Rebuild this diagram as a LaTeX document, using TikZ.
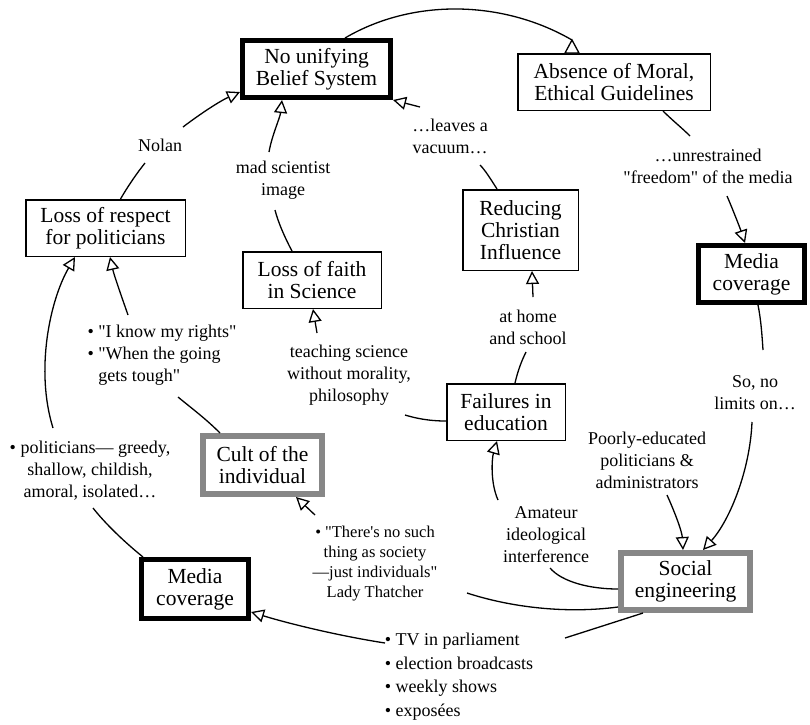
\documentclass[tikz,border=0pt]{standalone}
\usepackage{fontspec}
\setmainfont{Liberation Serif}
\newfontfamily\plainserif{Liberation Serif}
\usetikzlibrary{arrows.meta,calc}
\definecolor{bordergray}{RGB}{135,135,135}
\tikzset{
 box/.style={draw, line width=1.5pt, align=center, font=\plainserif\fontsize{21.5}{22}\selectfont, inner sep=0pt, fill=white},
 thickbox/.style={box, line width=5pt},
 graybox/.style={box, draw=bordergray, line width=6pt},
 lbl/.style={align=center, font=\plainserif\fontsize{18}{22}\selectfont, inner sep=0pt},
 con/.style={line width=1.3pt},
 arr/.style={con, -{Triangle[open, length=13pt, width=13pt, line width=1.3pt]}},
}
\begin{document}
\begin{tikzpicture}[x=1pt,y=-1pt]
\path[use as bounding box] (0,0) rectangle (810,724);
% boxes
\node[thickbox, minimum width=148pt, minimum height=57pt] (nub) at (316.5,69) {No unifying\\Belief System};
\node[box, minimum width=192.5pt, minimum height=56.5pt] (abs) at (614,82) {Absence of Moral,\\Ethical Guidelines};
\node[box, minimum width=159.5pt, minimum height=56.5pt] (lrp) at (105.5,228) {Loss of respect\\for politicians};
\node[box, minimum width=138.5pt, minimum height=56.5pt] (lfs) at (312,280) {Loss of faith\\in Science};
\node[box, minimum width=115.5pt, minimum height=80.5pt] (rci) at (520.5,230) {Reducing\\Christian\\Influence};
\node[thickbox, minimum width=106pt, minimum height=57pt] (mcr) at (751.5,274) {Media\\coverage};
\node[box, minimum width=118.5pt, minimum height=56.5pt] (fie) at (506,412) {Failures in\\education};
\node[graybox, minimum width=119pt, minimum height=58pt] (cult) at (262.5,465) {Cult of the\\individual};
\node[graybox, minimum width=129pt, minimum height=57pt] (soc) at (685.5,581.5) {Social\\engineering};
\node[thickbox, minimum width=107pt, minimum height=59pt] (mcl) at (195,589) {Media\\coverage};
% labels
\node[lbl] (nolan) at (160,145) {Nolan};
\node[lbl] (mad) at (283,180) {mad scientist\\image};
\node[lbl] (vac) at (450,136) {…leaves a\\vacuum…};
\node[lbl] (free) at (708,166) {…unrestrained\\"freedom" of the media};
\node[lbl] (nolim) at (755,393) {So, no\\limits on…};
\node[lbl] (home) at (528,327) {at home\\and school};
\node[lbl] (teach) at (349,375) {teaching science\\without morality,\\philosophy};
\node[lbl] (poor) at (647,460) {Poorly-educated\\politicians \&\\administrators};
\node[lbl] (amat) at (546,535) {Amateur\\ideological\\interference};
\node[lbl, font=\plainserif\fontsize{16.5}{20}\selectfont] (thatch) at (375,564) {• "There's no such\\thing as society\\—just individuals"\\Lady Thatcher};
\node[lbl, align=left] (rights) at (162,355) {• "I know my rights"\\• "When the going\\\phantom{• }gets tough"};
\node[lbl] (pol) at (90,471) {• politicians— greedy,\\shallow, childish,\\amoral, isolated…};
\node[lbl, align=left, font=\plainserif\fontsize{18}{23.5}\selectfont] (tv) at (459,676.5) {• TV in parliament\\• election broadcasts\\• weekly shows\\• exposées};
% A
\draw[con] ($(nub)+(28.5,-31)$) .. controls (413,-2) and (503,0) .. ($(abs)+(-42,-42)$);
\draw[con,fill=white] ($(abs)+(-42,-42)$) -- ($(abs)+(-49,-29)$) -- ($(abs)+(-35,-29)$) -- cycle;
% B
\draw[con] ($(abs)+(49,29)$) .. controls (672,120) and (682,128) .. ($(free)+(-18,-30)$);
\draw[arr] ($(free)+(19,30)$) .. controls (733,210) and (740,228) .. ($(mcr)+(-6.5,-31)$);
% C
\draw[con] ($(mcr)+(6.5,31)$) .. controls (761,320) and (762,335) .. ($(nolim)+(8,-43)$);
\draw[arr] ($(nolim)+(-3,29)$) .. controls (750,470) and (730,520) .. ($(soc)+(17.5,-31.5)$);
% D
\draw[arr] ($(poor)+(20,35)$) .. controls (676,515) and (682,532) .. ($(soc)+(-2.5,-31.5)$);
% E
\draw[con] ($(soc)+(-67.5,7.5)$) .. controls (590,589) and (562,582) .. ($(amat)+(4,33)$);
\draw[arr] ($(amat)+(-48,-35)$) .. controls (490,482) and (492,458) .. ($(fie)+(-9,29)$);
% F
\draw[con] ($(soc)+(-67.5,25.5)$) .. controls (565,614) and (510,607) .. ($(thatch)+(92,29)$);
\draw[arr] ($(thatch)+(-60,-49)$) -- ($(cult)+(33.5,32)$);
% G
\draw[con] ($(soc)+(-42.5,31.5)$) .. controls (615,622) and (590,630) .. ($(tv)+(106,-38.5)$);
\draw[arr] ($(tv)+(-74,-33.5)$) .. controls (340,636) and (290,624) .. ($(mcl)+(56,23)$);
% H
\draw[con] ($(mcl)+(-52,-32)$) .. controls (122,540) and (104,522) .. ($(pol)+(3,37)$);
\draw[arr] ($(pol)+(-37,-43)$) .. controls (35,370) and (50,300) .. ($(lrp)+(-30.5,29)$);
% I
\draw[con] ($(cult)+(-42.5,-32)$) .. controls (205,418) and (190,407) .. ($(rights)+(16,42)$);
\draw[arr] ($(rights)+(-34,-40)$) .. controls (121,295) and (114,275) .. ($(lrp)+(4.5,29)$);
% J
\draw[con] ($(fie)+(-60,9)$) .. controls (428,421) and (415,418) .. ($(teach)+(56,40)$);
\draw[arr] ($(teach)+(-32,-42)$) -- ($(lfs)+(1,29)$);
% K
\draw[con] ($(fie)+(9,-29)$) .. controls (518,370) and (522,360) .. ($(home)+(-2,25)$);
\draw[arr] ($(home)+(5,-30)$) -- ($(rci)+(11.5,41)$);
% L
\draw[con] ($(rci)+(-23.5,-41)$) .. controls (490,178) and (485,170) .. ($(vac)+(30,29)$);
\draw[arr] ($(vac)+(-30,-29)$) -- ($(nub)+(76.5,31)$);
% M
\draw[con] ($(lfs)+(-20,-29)$) .. controls (285,238) and (278,222) .. ($(mad)+(-8,30)$);
\draw[arr] ($(mad)+(-14,-28)$) .. controls (272,135) and (280,118) .. ($(nub)+(-34.5,31)$);
% N
\draw[con] ($(lrp)+(15,-29)$) .. controls (128,186) and (137,173) .. ($(nolan)+(-15,18)$);
\draw[arr] ($(nolan)+(23,-18)$) .. controls (200,114) and (220,101) .. ($(nub)+(-76.5,23)$);
\end{tikzpicture}
\end{document}
